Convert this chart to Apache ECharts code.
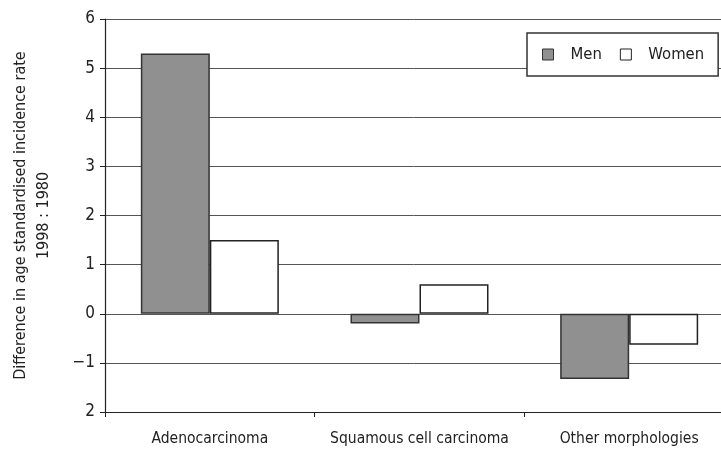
<!DOCTYPE html>
<html><head><meta charset="utf-8">
<script src="https://cdn.jsdelivr.net/npm/echarts@6/dist/echarts.min.js"></script>
<style>html,body{margin:0;padding:0;background:#fff}#c{width:721px;height:449px}</style>
</head><body><div id="c"></div>
<script>
const categories = ["Adenocarcinoma", "Squamous cell carcinoma", "Other morphologies"];
const men = [5.3, -0.2, -1.33];
const women = [1.5, 0.6, -0.63];
const yTickValues = [-2, -1, 0, 1, 2, 3, 4, 5, 6];
const yTickLabels = ["2", "\u22121", "0", "1", "2", "3", "4", "5", "6"];
const yName = "Difference in age standardised incidence rate\n1998 : 1980";

const FONT = '"Liberation Sans Narrow", "DejaVu Sans Condensed", "Liberation Sans", sans-serif';
const chart = echarts.init(document.getElementById('c'), null, {renderer: 'canvas'});
chart.setOption({
  animation: false,
  backgroundColor: '#fff',
  textStyle: {fontFamily: FONT},
  grid: {left: 105, top: 19, bottom: 37, right: -13, containLabel: false, outerBoundsMode: 'none'},
  legend: {
    left: 527, top: 33,
    orient: 'horizontal',
    backgroundColor: '#fff',
    borderColor: '#333', borderWidth: 1.5,
    padding: [13, 14, 13, 15],
    itemWidth: 11, itemHeight: 11, itemGap: 18,
    textStyle: {fontFamily: FONT, fontSize: 16.5, color: '#222', padding: [0, 0, 0, 12]},
    data: [
      {name: 'Men', icon: 'rect', itemStyle: {color: '#909090', borderColor: '#333', borderWidth: 1}},
      {name: 'Women', icon: 'rect', itemStyle: {color: '#fff', borderColor: '#222', borderWidth: 1}}
    ]
  },
  xAxis: {
    type: 'category',
    data: categories,
    axisLine: {onZero: false, lineStyle: {color: '#222', width: 1.2}},
    axisTick: {show: true, length: 5, interval: 0, lineStyle: {color: '#222'}},
    axisLabel: {fontFamily: FONT, fontSize: 15.5, color: '#222', margin: 19, interval: 0},
    splitLine: {show: false}
  },
  yAxis: {
    type: 'value',
    min: -2, max: 6, interval: 1,
    name: yName,
    nameLocation: 'middle',
    nameGap: 50,
    nameTextStyle: {fontFamily: FONT, fontSize: 16, color: '#222', lineHeight: 23},
    axisLine: {show: true, lineStyle: {color: '#222', width: 1.2}},
    axisTick: {show: true, length: 5, lineStyle: {color: '#222'}},
    axisLabel: {
      fontFamily: FONT, fontSize: 17, color: '#222', margin: 10,
      formatter: function (v) { const i = yTickValues.indexOf(v); return i >= 0 ? yTickLabels[i] : ''; }
    },
    splitLine: {show: true, lineStyle: {color: '#555', width: 1}}
  },
  series: [
    {name: 'Men', type: 'bar', data: men, barWidth: 69, barGap: '0%',
     itemStyle: {color: '#909090', borderColor: '#333', borderWidth: 1.5}},
    {name: 'Women', type: 'bar', data: women, barWidth: 69, barGap: '0%',
     itemStyle: {color: '#fff', borderColor: '#222', borderWidth: 1.5}}
  ]
});
</script></body></html>
